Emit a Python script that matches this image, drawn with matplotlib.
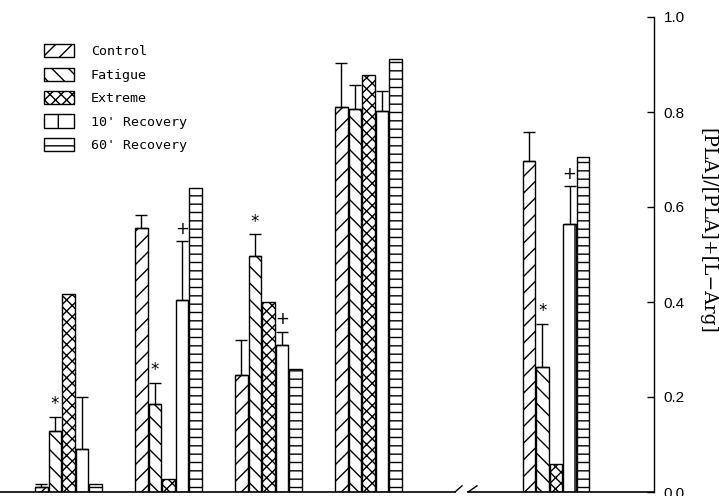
import matplotlib.pyplot as plt
import numpy as np

# values (fraction)
series = ["Control", "Fatigue", "Extreme", "10' Recovery", "60' Recovery"]
control = [0.010, 0.556, 0.246, 0.810, 0.697]
control_err = [0.006, 0.027, 0.074, 0.093, 0.061]
fatigue = [0.128, 0.185, 0.497, 0.806, 0.263]
fatigue_err = [0.030, 0.045, 0.046, 0.051, 0.091]
extreme = [0.417, 0.027, 0.400, 0.878, 0.060]
rec10 = [0.090, 0.405, 0.310, 0.802, 0.564]
rec10_err = [0.110, 0.123, 0.027, 0.042, 0.080]
rec60 = [0.017, 0.640, 0.259, 0.912, 0.705]

# significance marks: (group, series index, symbol)
marks = [(0, 1, "*"), (1, 1, "*"), (2, 1, "*"), (4, 1, "*"),
         (1, 3, "+"), (2, 3, "+"), (4, 3, "+")]

groups = np.array([0, 1, 2, 3, 4.875])
hatches = ["//", "\\\\", "xxx", "|", "--"]
values = [control, fatigue, extreme, rec10, rec60]
errors = [control_err, fatigue_err, None, rec10_err, None]

fig = plt.figure(figsize=(7.19, 4.96), dpi=100)
ax = fig.add_axes([0, 4 / 496, 654 / 719, 475 / 496])

step = 0.136
width = 0.125
for i, (vals, err, h, name) in enumerate(zip(values, errors, hatches, series)):
    x = groups + (i - 2) * step
    ax.bar(x, vals, width, color="white", edgecolor="black", hatch=h,
           linewidth=1, label=name)
    if err is not None:
        ax.errorbar(x, vals, yerr=[np.zeros(len(err)), err], fmt="none",
                    ecolor="black", elinewidth=1, capsize=4.5, capthick=1)

for g, s, sym in marks:
    top = values[s][g] + errors[s][g]
    ax.annotate(sym, (groups[g] + (s - 2) * step, top), xytext=(0, 9),
                textcoords="offset points", ha="center", va="center",
                fontsize=12, family="DejaVu Sans")

xl, xr = -0.685, 5.855
ax.set_xlim(xl, xr)
ax.set_ylim(0, 1)

# broken baseline
ax.plot([xl, 3.865], [0, 0], color="black", lw=1.2, clip_on=False)
ax.plot([3.995, xr], [0, 0], color="black", lw=1.2, clip_on=False)
ax.plot([3.865, 3.935], [0, 0.013], color="black", lw=1, clip_on=False)
ax.plot([3.995, 4.085], [0, 0.013], color="black", lw=1, clip_on=False)

for side in ["left", "top", "bottom"]:
    ax.spines[side].set_visible(False)
ax.spines["right"].set_linewidth(1)
ax.set_xticks([])
ax.yaxis.tick_right()
ax.set_yticks([0, 0.2, 0.4, 0.6, 0.8, 1.0])
ax.set_yticklabels(["0.0", "0.2", "0.4", "0.6", "0.8", "1.0"],
                   family="Liberation Sans")
ax.tick_params(axis="y", direction="in", length=5, width=1, pad=7,
               labelsize=11)

fig.text(707 / 719, 1 - 231 / 496, "[PLA]/[PLA]+[L\u2212Arg]", rotation=270,
         ha="center", va="center", fontsize=13.5, family="DejaVu Serif")

ax.legend(loc="upper left", bbox_to_anchor=(44 / 654, 0.943), frameon=False,
          prop={"family": "DejaVu Sans Mono", "size": 9.6},
          handlelength=2.27, handleheight=1.15, handletextpad=1.25,
          labelspacing=0.7, borderpad=0, borderaxespad=0)

fig.savefig("out.png", dpi=100)
